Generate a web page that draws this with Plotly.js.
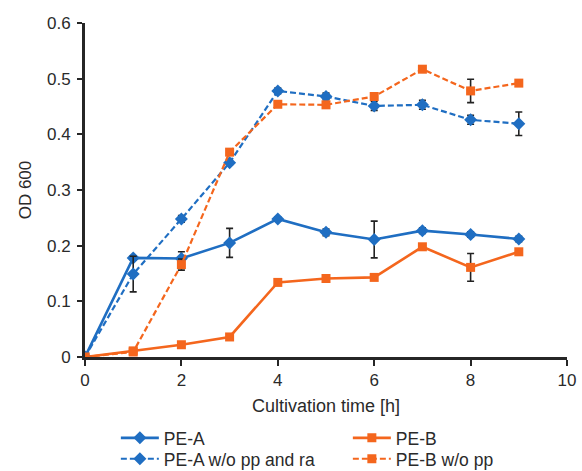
<!DOCTYPE html>
<html>
<head>
<meta charset="utf-8">
<script src="https://cdn.plot.ly/plotly-3.0.1.min.js"></script>
<style>html,body{margin:0;padding:0;background:#fff;}#chart{width:582px;height:471px;}</style>
</head>
<body>
<div id="chart"></div>
<script>
const time = [0, 1, 2, 3, 4, 5, 6, 7, 8, 9];

const peA      = [0, 0.178, 0.177, 0.205, 0.248, 0.224, 0.211, 0.227, 0.220, 0.212];
const peAErr   = [0, 0.004, 0.012, 0.026, 0.004, 0.006, 0.033, 0.005, 0.005, 0.005];

const peB      = [0, 0.011, 0.022, 0.036, 0.134, 0.141, 0.143, 0.198, 0.161, 0.189];
const peBErr   = [0, 0.002, 0.002, 0.002, 0.003, 0.003, 0.003, 0.003, 0.025, 0.003];

const peAwo    = [0, 0.149, 0.248, 0.349, 0.478, 0.468, 0.451, 0.453, 0.426, 0.419];
const peAwoErr = [0, 0.032, 0.006, 0.004, 0.005, 0.006, 0.008, 0.008, 0.008, 0.021];

const peBwo    = [0, 0.009, 0.166, 0.368, 0.454, 0.453, 0.468, 0.517, 0.478, 0.492];
const peBwoErr = [0, 0.002, 0.010, 0.003, 0.003, 0.003, 0.003, 0.003, 0.021, 0.003];

const names = ['PE-A', 'PE-B', 'PE-A w/o pp and ra', 'PE-B w/o pp'];

const blue = '#1f6ec2';
const orange = '#f4661d';

function trace(name, y, err, color, symbol, dash, width, legend) {
  return {
    x: time, y: y, name: name, type: 'scatter', mode: 'lines+markers',
    legend: legend,
    line: {color: color, width: width, dash: dash},
    marker: {color: color, symbol: symbol, size: symbol === 'square' ? 9 : 10},
    error_y: {type: 'data', array: err, visible: true, color: '#222', thickness: 1.6, width: 3.5}
  };
}

const data = [
  trace(names[0], peA, peAErr, blue, 'diamond', 'solid', 2.6, 'legend'),
  trace(names[1], peB, peBErr, orange, 'square', 'solid', 2.6, 'legend'),
  trace(names[2], peAwo, peAwoErr, blue, 'diamond', '6px,3px', 2.2, 'legend2'),
  trace(names[3], peBwo, peBwoErr, orange, 'square', '6px,3px', 2.2, 'legend2')
];

const legendBase = {
  orientation: 'h', x: 0.064, xanchor: 'left', yanchor: 'middle',
  entrywidth: 179, entrywidthmode: 'pixels',
  font: {size: 17.5}, traceorder: 'normal', itemwidth: 38,
  bgcolor: 'rgba(0,0,0,0)'
};

const layout = {
  width: 582, height: 471,
  margin: {l: 85, r: 15, t: 23, b: 114, autoexpand: false},
  paper_bgcolor: '#fff', plot_bgcolor: '#fff',
  font: {family: 'Liberation Sans, Arial, sans-serif', size: 18, color: '#2a2a2a'},
  showlegend: true,
  xaxis: {
    range: [0, 10], tickvals: [0, 2, 4, 6, 8, 10],
    showgrid: false, zeroline: false,
    showline: true, linecolor: '#262626', linewidth: 3,
    ticks: 'outside', ticklen: 6, tickwidth: 2, tickcolor: '#262626',
    tickfont: {size: 17},
    title: {text: 'Cultivation time [h]', font: {size: 18}, standoff: 10}
  },
  yaxis: {
    range: [0, 0.6], tickvals: [0, 0.1, 0.2, 0.3, 0.4, 0.5, 0.6],
    ticktext: ['0', '0.1', '0.2', '0.3', '0.4', '0.5', '0.6'],
    showgrid: false, zeroline: false,
    showline: true, linecolor: '#262626', linewidth: 3,
    ticks: 'outside', ticklen: 5, tickwidth: 2, tickcolor: '#262626',
    tickfont: {size: 17}, ticklabelstandoff: 3,
    title: {text: 'OD 600', font: {size: 17}, standoff: 12}
  },
  legend: Object.assign({}, legendBase, {y: -0.2425}),
  legend2: Object.assign({}, legendBase, {y: -0.305})
};

Plotly.newPlot('chart', data, layout, {displayModeBar: false, staticPlot: true});
</script>
</body>
</html>
